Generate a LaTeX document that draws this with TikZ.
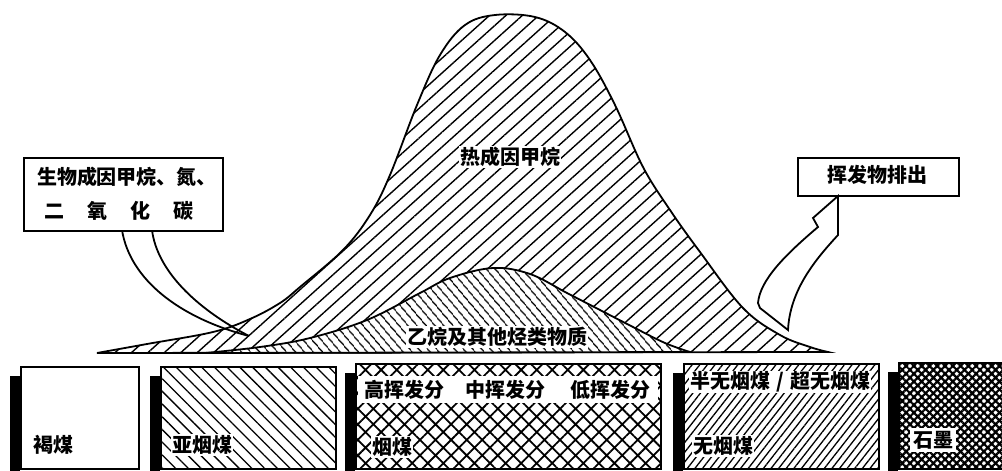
\documentclass[tikz,border=0pt]{standalone}
\usepackage{fontspec}
\setmainfont{Noto Sans CJK SC}
\usetikzlibrary{patterns.meta}
\begin{document}
\begin{tikzpicture}[x=1pt,y=-1pt,
  txt/.style={font=\fontsize{20}{22}\selectfont\bfseries, inner sep=1pt},
  wtxt/.style={txt, fill=white},
  frame/.style={draw=black, line width=1.8pt},
  curve/.style={draw=black, line width=1.8pt},
  shadowbar/.style={fill=black},
  coalbox/.style={frame, anchor=north west, minimum height=102pt},
]
\useasboundingbox (0,0) rectangle (1002,471);

% big thermogenic methane curve
\path[curve, pattern={Lines[angle=42,distance=11pt,line width=1.4pt]}]
  plot[smooth, tension=0.6] coordinates {(97,353) (147,344) (213,332) (250,319) (280,303) (300,287) (343,250) (370,215) (390,175) (417,105) (440,55) (465,25) (495,15) (535,17) (565,32) (590,60) (615,105) (643,167) (670,210) (700,252) (743,308) (780,335) (810,347) (828,352)} -- cycle;

% ethane curve
\path[curve, preaction={fill=white}, pattern={Lines[angle=-50,distance=6.5pt,line width=1.3pt]}]
  plot[smooth, tension=0.6] coordinates {(205,353) (260,347) (310,338) (367,320) (420,293) (450,278) (493,268) (530,274) (567,293) (600,310) (633,327) (665,343) (690,352)} -- cycle;

\node (thermo) [wtxt] at (510,157) {热成因甲烷};
\node (ethane) [wtxt] at (497,337) {乙烷及其他烃类物质};

% left callout
\coordinate (tl) at (122,230);
\coordinate (tr) at (152,230);
\coordinate (tailend) at (249,336);
\draw[curve] (tl) .. controls (130,280) and (180,318) .. (tailend);
\draw[curve] (tr) .. controls (157,270) and (195,308) .. (tailend);
\node (bio) [frame, fill=white, anchor=north west, minimum width=199pt, minimum height=73pt] at (23,157) {};
\node (bio1) [txt] at (127,177) {生物成因甲烷、氮、};
\node (bio2) [txt] at (119,211) {\makebox[150pt][s]{二\hfil 氧\hfil 化\hfil 碳}};

% right box and arrow
\node (vol) [frame, fill=white, anchor=north west, minimum width=161pt, minimum height=38pt] at (797,157) {};
\node (voltxt) [txt] at (877,175) {挥发物排出};
\coordinate (tip) at (838,196);
\draw[curve, fill=white, line join=miter] (758,303) .. controls (760,280) and (785,255) .. (818,227) -- (813,218) -- (tip) -- (838,235) .. controls (815,260) and (790,290) .. (788,330) -- (760,308) -- cycle;

% coal boxes
\node (b1) [coalbox, fill=white, minimum width=118pt] at (20,366) {};
\node (b2) [coalbox, pattern={Lines[angle=-45,distance=9pt,line width=1.3pt]}, minimum width=175pt] at (160,366) {};
\node (b3) [coalbox, pattern={Hatch[angle=45,distance=11pt,line width=1.8pt]}, minimum width=305pt, minimum height=105pt] at (355,363) {};
\node (b4) [coalbox, pattern={Lines[angle=52,distance=6pt,line width=1.3pt]}, minimum width=195pt, minimum height=105pt] at (683,363) {};
\node (b5) [coalbox, pattern={Hatch[angle=45,distance=5.5pt,line width=2.2pt]}, minimum width=110pt, minimum height=106pt] at (898,362) {};

\foreach \b in {b1,b2,b3,b4,b5}{
  \fill[shadowbar] ([xshift=-10pt,yshift=-10pt]\b.north west) rectangle ([yshift=-4pt]\b.south west);
}

\node (t1) [wtxt] at (53,445) {褐煤};
\node (t2) [wtxt] at (202,445) {亚烟煤};
\node (band) [fill=white, minimum width=300pt, minimum height=27pt, inner sep=0pt] at (507.5,389) {};
\node (h1) [txt] at (404,390) {高挥发分};
\node (h2) [txt] at (505,390) {中挥发分};
\node (h3) [txt] at (610,390) {低挥发分};
\node (t3) [wtxt] at (392,447) {烟煤};
\node (t4a) [wtxt] at (780,382) {半无烟煤\makebox[20pt]{/}超无烟煤};
\node (t4) [wtxt] at (723,446) {无烟煤};
\node (t5) [wtxt, inner sep=3pt] at (933,440) {石墨};
\end{tikzpicture}
\end{document}
